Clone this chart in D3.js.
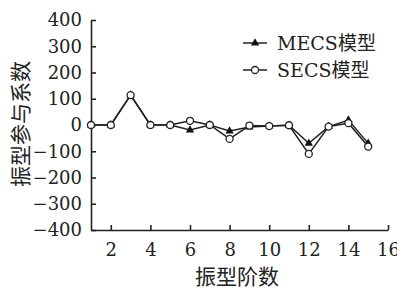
<!DOCTYPE html>
<html>
<head>
<meta charset="utf-8">
<script src="https://cdn.jsdelivr.net/npm/d3@7"></script>
<style>
  body { margin: 0; background: #fff; }
  svg text { fill: #222; }
</style>
</head>
<body>
<div id="chart"></div>
<script>
// mode order 1..15
const modes = [1, 2, 3, 4, 5, 6, 7, 8, 9, 10, 11, 12, 13, 14, 15];
const mecs = [0, 0, 114, 0, 0, -19, 0, -23, -8, -4, -1, -70, -6, 19, -70];
const secs = [0, 0, 114, 0, 0, 16, 0, -53, -2, -4, -1, -110, -6, 7, -82];
const xTicks = [2, 4, 6, 8, 10, 12, 14, 16];
const yTicks = [-400, -300, -200, -100, 0, 100, 200, 300, 400];
const seriesNames = ["MECS模型", "SECS模型"];

let width = 397;
let height = 288;
let serif = "'DejaVu Serif', 'Noto Sans CJK SC', serif";

let svg = d3.select("#chart").append("svg")
  .attr("width", width)
  .attr("height", height);

let x = d3.scaleLinear().domain([1, 16]).range([91, 388]);
let y = d3.scaleLinear().domain([-400, 400]).range([230, 20]);

let yAxis = d3.axisLeft(y)
  .tickValues(yTicks)
  .tickSizeInner(-5)
  .tickSizeOuter(0)
  .tickPadding(9);
let xAxis = d3.axisBottom(x)
  .tickValues(xTicks)
  .tickSizeInner(-5)
  .tickSizeOuter(0)
  .tickPadding(13);

let gy = svg.append("g")
  .attr("transform", `translate(${x(1)},0)`)
  .call(yAxis);
let gx = svg.append("g")
  .attr("transform", `translate(0,${y(-400)})`)
  .call(xAxis);

[gx, gy].forEach((g) => {
  g.selectAll("path, line")
    .attr("stroke", "#222")
    .attr("stroke-width", 1.6);
  g.selectAll("text")
    .attr("font-family", serif)
    .attr("font-size", 18)
    .attr("fill", "#222");
});

// axis titles
svg.append("text")
  .attr("x", 237)
  .attr("y", 284)
  .attr("text-anchor", "middle")
  .attr("font-family", serif)
  .attr("font-size", 21)
  .text("振型阶数");

svg.append("text")
  .attr("transform", "translate(28,124) rotate(-90)")
  .attr("text-anchor", "middle")
  .attr("font-family", serif)
  .attr("font-size", 21)
  .text("振型参与系数");

let line = d3.line()
  .x((d, i) => x(modes[i]))
  .y((d) => y(d));

// SECS first, MECS drawn on top
svg.append("path")
  .datum(secs)
  .attr("fill", "none")
  .attr("stroke", "#222")
  .attr("stroke-width", 1.5)
  .attr("d", line);
svg.append("path")
  .datum(mecs)
  .attr("fill", "none")
  .attr("stroke", "#222")
  .attr("stroke-width", 1.5)
  .attr("d", line);

let tri = d3.symbol().type(d3.symbolTriangle).size(30);

svg.selectAll("path.mecs-pt")
  .data(mecs)
  .enter()
  .append("path")
  .classed("mecs-pt", true)
  .attr("d", tri)
  .attr("fill", "#111")
  .attr("transform", (d, i) => `translate(${x(modes[i])},${y(d)})`);

svg.selectAll("circle.secs-pt")
  .data(secs)
  .enter()
  .append("circle")
  .classed("secs-pt", true)
  .attr("cx", (d, i) => x(modes[i]))
  .attr("cy", (d) => y(d))
  .attr("r", 3.5)
  .attr("fill", "#fff")
  .attr("stroke", "#222")
  .attr("stroke-width", 1.3);

// legend
let legend = svg.append("g");
let legendY = [43, 70];
seriesNames.forEach((name, i) => {
  let g = legend.append("g")
    .attr("transform", `translate(243,${legendY[i]})`);
  g.append("line")
    .attr("x1", 0)
    .attr("x2", 24)
    .attr("stroke", "#222")
    .attr("stroke-width", 1.5);
  if (i === 0) {
    g.append("path")
      .attr("d", tri)
      .attr("fill", "#111")
      .attr("transform", "translate(12,0)");
  } else {
    g.append("circle")
      .attr("cx", 12)
      .attr("r", 3.5)
      .attr("fill", "#fff")
      .attr("stroke", "#222")
      .attr("stroke-width", 1.3);
  }
  g.append("text")
    .attr("x", 34)
    .attr("y", 7)
    .attr("font-family", serif)
    .attr("font-size", 19)
    .text(name);
});
</script>
</body>
</html>
